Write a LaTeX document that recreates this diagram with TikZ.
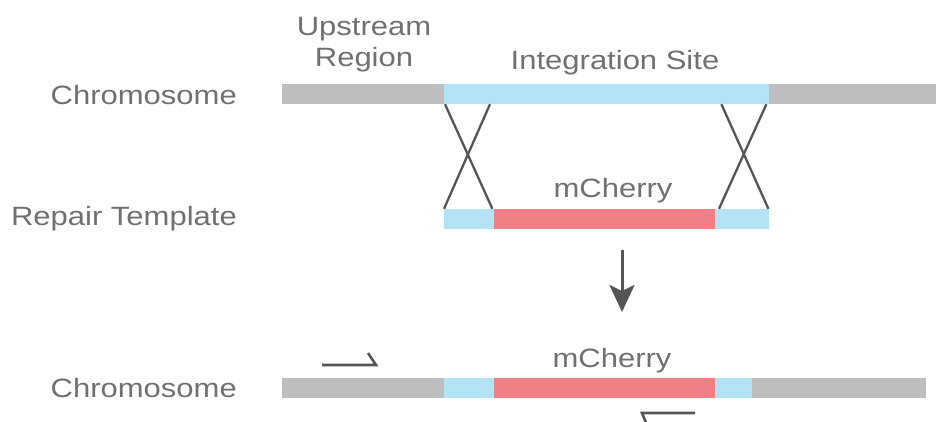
\documentclass[tikz,border=0pt]{standalone}
\usepackage{fontspec}
\setmainfont[FakeStretch=1.17]{Liberation Sans}
\usetikzlibrary{arrows.meta}
\definecolor{chrgray}{RGB}{190,190,190}
\definecolor{armblue}{RGB}{179,227,244}
\definecolor{cherry}{RGB}{240,128,134}
\definecolor{inkgray}{RGB}{85,85,85}
\definecolor{txtgray}{RGB}{112,112,112}
\begin{document}
\begin{tikzpicture}[x=1pt,y=-1pt]
\tikzstyle{seg}=[rectangle, anchor=west, inner sep=0pt, minimum height=20pt, draw=none]
\tikzstyle{lbl}=[inner sep=0pt, text=txtgray, font=\fontsize{26.5pt}{31pt}\selectfont]
\tikzstyle{cross}=[draw=inkgray, line width=2.3pt]
\tikzstyle{primer}=[draw=inkgray, line width=2.6pt]
\useasboundingbox (0,0) rectangle (936,421);

% Chromosome
\node[seg, fill=chrgray, minimum width=162pt] (up) at (282,94) {};
\node[seg, fill=armblue, minimum width=325pt] (site) at (444,94) {};
\node[seg, fill=chrgray, minimum width=167pt] (down) at (769,94) {};

% Repair template
\node[seg, fill=armblue, minimum width=50pt] (armL) at (444,219) {};
\node[seg, fill=cherry, minimum width=221pt] (mch) at (494,219) {};
\node[seg, fill=armblue, minimum width=54pt] (armR) at (715,219) {};

% Edited chromosome
\node[seg, fill=chrgray, minimum width=162pt] (newup) at (282,388) {};
\node[seg, fill=armblue, minimum width=50pt] (newL) at (444,388) {};
\node[seg, fill=cherry, minimum width=221pt] (newmch) at (494,388) {};
\node[seg, fill=armblue, minimum width=37pt] (newR) at (715,388) {};
\node[seg, fill=chrgray, minimum width=174pt] (newdown) at (752,388) {};

% Labels
\node[lbl, anchor=base east] (chr1) at (237,104) {Chromosome};
\node[lbl, anchor=base east] (tmpl) at (237,225) {Repair Template};
\node[lbl, anchor=base east] (chr2) at (237,397) {Chromosome};
\node[lbl, anchor=base, align=center] (upreg) at (364,66) {Upstream\\Region};
\node[lbl, anchor=base] (sitelbl) at (615,69) {Integration Site};
\node[lbl, anchor=base] (mchlbl) at (613,197) {mCherry};
\node[lbl, anchor=base] (newmchlbl) at (612,367) {mCherry};

% Crossovers
\draw[cross] ([xshift=1pt]site.south west) -- ([xshift=-2pt]armL.north east);
\draw[cross] ([xshift=46pt]site.south west) -- (armL.north west);
\draw[cross] ([xshift=-48pt]site.south east) -- ([xshift=-1pt]armR.north east);
\draw[cross] ([xshift=-3pt]site.south east) -- ([xshift=4pt]armR.north west);

% Result arrow
\coordinate (a1) at (622,250);
\coordinate (a2) at (622,312);
\draw[draw=inkgray, line width=3pt, -{Stealth[length=27pt, width=25pt, inset=6pt]}] (a1) -- (a2);

% Primers
\coordinate (f1) at (322,365);
\coordinate (f2) at (376,365);
\coordinate (f3) at (368,353);
\draw[primer] (f1) -- (f2) -- (f3);
\coordinate (r1) at (695,413);
\coordinate (r2) at (642,413);
\coordinate (r3) at (647,425);
\draw[primer] (r1) -- (r2) -- (r3);
\end{tikzpicture}
\end{document}
